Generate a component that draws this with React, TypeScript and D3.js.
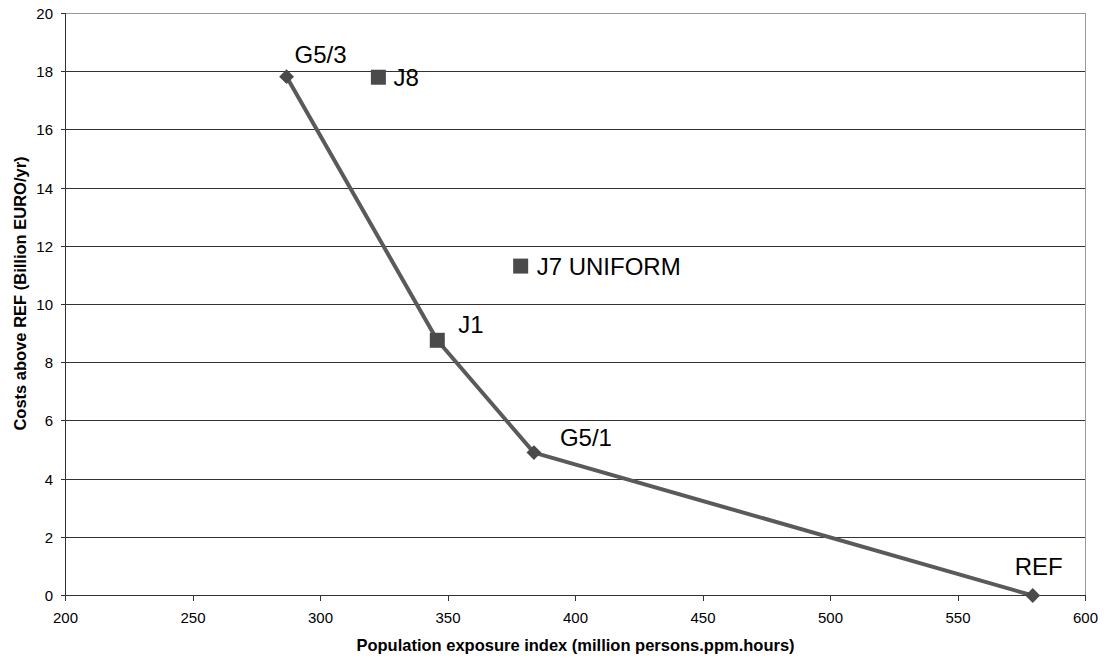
import React from "react";
import * as d3 from "d3";

// Frontier series (line with diamond markers)
const frontierNames = ["G5/3", "J1", "G5/1", "REF"];
const frontierX = [286.7, 345.8, 383.7, 579.3];
const frontierY = [17.83, 8.77, 4.91, 0];

// Individual scenarios (square markers)
const scenarioNames = ["J8", "J7 UNIFORM", "J1"];
const scenarioX = [322.7, 378.5, 345.8];
const scenarioY = [17.81, 11.32, 8.77];

// Axis ticks
const xTicks = [200, 250, 300, 350, 400, 450, 500, 550, 600];
const yTicks = [0, 2, 4, 6, 8, 10, 12, 14, 16, 18, 20];

const xTitle = "Population exposure index (million persons.ppm.hours)";
const yTitle = "Costs above REF (Billion EURO/yr)";

// label placement (pixel offsets from point, text anchored start)
const labelOffsets: Record<string, [number, number]> = {
  "G5/3": [8, -14],
  "J8": [15, 8.5],
  "J7 UNIFORM": [16, 9],
  "J1": [21, -7],
  "G5/1": [26, -7],
  "REF": [-18, -21],
};

const W = 1106;
const H = 659;
const FONT = "'Liberation Sans', Arial, Helvetica, sans-serif";

export default function App() {
  const x = d3.scaleLinear().domain([200, 600]).range([65.5, 1085.5]);
  const y = d3.scaleLinear().domain([0, 20]).range([595.5, 13.5]);

  const linePath = d3
    .line<number>()
    .x((_, i) => x(frontierX[i]))
    .y((_, i) => y(frontierY[i]))(frontierX.map((_, i) => i)) as string;

  const diamond = d3.symbol().type(d3.symbolSquare).size(110)() as string;
  const square = d3.symbol().type(d3.symbolSquare).size(225)() as string;

  const labels: { name: string; px: number; py: number }[] = [];
  frontierNames.forEach((n, i) => {
    if (!scenarioNames.includes(n)) labels.push({ name: n, px: x(frontierX[i]), py: y(frontierY[i]) });
  });
  scenarioNames.forEach((n, i) => labels.push({ name: n, px: x(scenarioX[i]), py: y(scenarioY[i]) }));

  const [x0, x1] = x.range();
  const [yb, yt] = y.range();

  return (
    <svg
      width={W}
      height={H}
      style={{ position: "fixed", left: 0, top: 0, background: "#fff" }}
      fontFamily={FONT}
    >
      <rect x={0} y={0} width={W} height={H} fill="#fff" />
      {/* gridlines */}
      {yTicks.map((t) =>
        t === 0 ? null : (
          <line
            key={"g" + t}
            x1={x0}
            x2={x1}
            y1={y(t)}
            y2={y(t)}
            stroke={t === 20 ? "#999" : "#333"}
            strokeWidth={1}
            shapeRendering="crispEdges"
          />
        )
      )}
      {/* right border */}
      <line x1={x1} x2={x1} y1={yt} y2={yb} stroke="#999" strokeWidth={1} shapeRendering="crispEdges" />
      {/* axes */}
      <line x1={x0} x2={x0} y1={yt} y2={yb} stroke="#333" strokeWidth={1.5} shapeRendering="crispEdges" />
      <line x1={x0} x2={x1} y1={yb} y2={yb} stroke="#333" strokeWidth={1.5} shapeRendering="crispEdges" />
      {yTicks.map((t) => (
        <g key={"yt" + t}>
          <line x1={x0 - 5} x2={x0} y1={y(t)} y2={y(t)} stroke="#333" shapeRendering="crispEdges" />
          <text x={53} y={y(t)} dy="0.36em" textAnchor="end" fontSize={15} fill="#000">
            {t}
          </text>
        </g>
      ))}
      {xTicks.map((t) => (
        <g key={"xt" + t}>
          <line x1={x(t)} x2={x(t)} y1={yb} y2={yb + 5} stroke="#333" shapeRendering="crispEdges" />
          <text x={x(t)} y={623} textAnchor="middle" fontSize={15} fill="#000">
            {t}
          </text>
        </g>
      ))}
      {/* titles */}
      <text x={(x0 + x1) / 2} y={651} textAnchor="middle" fontSize={16.5} fontWeight="bold" fill="#000">
        {xTitle}
      </text>
      <text
        transform={`translate(26, ${(yt + yb) / 2 - 11}) rotate(-90)`}
        textAnchor="middle"
        fontSize={16.5}
        fontWeight="bold"
        fill="#000"
      >
        {yTitle}
      </text>
      {/* frontier line */}
      <path d={linePath} fill="none" stroke="#5a5a5a" strokeWidth={4} strokeLinejoin="round" />
      {frontierX.map((v, i) => (
        <path
          key={"d" + i}
          d={diamond}
          transform={`translate(${x(v)},${y(frontierY[i])}) rotate(45)`}
          fill="#4a4a4a"
        />
      ))}
      {scenarioX.map((v, i) => (
        <path key={"s" + i} d={square} transform={`translate(${x(v)},${y(scenarioY[i])})`} fill="#4a4a4a" />
      ))}
      {/* labels */}
      {labels.map((l) => {
        const off = labelOffsets[l.name] || [8, 0];
        return (
          <text key={"l" + l.name} x={l.px + off[0]} y={l.py + off[1]} fontSize={24} fill="#000">
            {l.name}
          </text>
        );
      })}
    </svg>
  );
}
